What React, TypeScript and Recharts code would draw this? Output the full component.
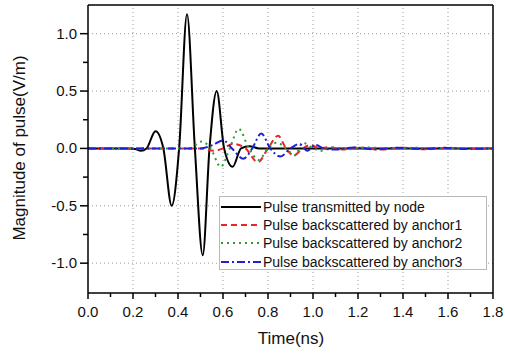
import { Line, LineChart, ReferenceLine, XAxis, YAxis } from 'recharts';

// Pulse transmitted by node (black, solid)
const nodeT = [0, 0.18, 0.21, 0.235, 0.26, 0.3, 0.335, 0.372, 0.405, 0.44, 0.475, 0.51, 0.54, 0.572, 0.605, 0.643, 0.68, 0.718, 0.76, 1.8];
const nodeV = [0, 0, -0.005, -0.02, 0, 0.15, 0, -0.5, 0, 1.17, 0, -0.93, 0, 0.5, 0, -0.16, 0, 0.02, 0, 0];

// Pulse backscattered by anchor1 (red, dashed)
const anchor1T = [0, 0.5, 0.56, 0.6, 0.645, 0.7, 0.755, 0.8, 0.845, 0.88, 0.915, 0.955, 0.99, 1.03, 1.07, 1.12, 1.2, 1.3, 1.4, 1.5, 1.6, 1.7, 1.8];
const anchor1V = [0, 0, -0.02, 0, 0.04, 0, -0.12, 0, 0.11, 0, -0.06, 0, 0.03, 0, 0.012, -0.01, 0.008, -0.01, 0.006, -0.008, 0.006, -0.005, 0];

// Pulse backscattered by anchor2 (green, dotted)
const anchor2T = [0, 0.45, 0.505, 0.545, 0.59, 0.63, 0.67, 0.715, 0.758, 0.8, 0.84, 0.88, 0.92, 0.955, 1.0, 1.04, 1.09, 1.15, 1.25, 1.35, 1.45, 1.55, 1.65, 1.8];
const anchor2V = [0, 0, 0.06, 0, -0.16, 0, 0.17, 0, -0.1, 0, 0.05, 0, -0.06, 0.05, 0, -0.02, 0.01, -0.008, 0.008, -0.006, 0.006, -0.005, 0.004, 0];

// Pulse backscattered by anchor3 (blue, dash-dot)
const anchor3T = [0, 0.5, 0.555, 0.6, 0.64, 0.69, 0.73, 0.77, 0.81, 0.855, 0.9, 0.94, 0.975, 1.01, 1.05, 1.1, 1.18, 1.28, 1.38, 1.48, 1.58, 1.68, 1.8];
const anchor3V = [0, 0, 0.03, 0.07, 0, -0.09, 0, 0.13, 0, -0.07, 0, 0.04, -0.02, 0.03, 0, -0.01, 0.008, -0.008, 0.006, -0.006, 0.005, -0.004, 0];

const xTicks = [0, 0.1, 0.2, 0.3, 0.4, 0.5, 0.6, 0.7, 0.8, 0.9, 1.0, 1.1, 1.2, 1.3, 1.4, 1.5, 1.6, 1.7, 1.8];
const yTicks = [-1, -0.75, -0.5, -0.25, 0, 0.25, 0.5, 0.75, 1];
const xGrid = [0.2, 0.4, 0.6, 0.8, 1.0, 1.2, 1.4, 1.6];
const yGrid = [-1, -0.5, 0.5, 1];

const legendItems = [
  { label: 'Pulse transmitted by node', color: '#000000', dash: undefined },
  { label: 'Pulse backscattered by anchor1', color: '#e8262a', dash: '6 4' },
  { label: 'Pulse backscattered by anchor2', color: '#2f9a36', dash: '2 4' },
  { label: 'Pulse backscattered by anchor3', color: '#1c22d4', dash: '8 3 2 3' },
];

const toRows = (t: number[], v: number[]) => t.map((x, i) => ({ t: x, v: v[i] }));

const series = [
  toRows(nodeT, nodeV),
  toRows(anchor1T, anchor1V),
  toRows(anchor2T, anchor2V),
  toRows(anchor3T, anchor3V),
];

const font = '"Liberation Sans", Arial, sans-serif';

function XTick(props: any) {
  const { x, y, payload } = props;
  const major = Math.round(payload.value * 10) % 2 === 0;
  return (
    <g>
      <line x1={x} x2={x} y1={y} y2={y + (major ? 6 : 4)} stroke="#000" strokeWidth={1.5} />
      {major && (
        <text x={x} y={y + 24} textAnchor="middle" fontSize={15} fontFamily={font} fill="#111">
          {payload.value.toFixed(1)}
        </text>
      )}
    </g>
  );
}

function YTick(props: any) {
  const { x, y, payload } = props;
  const major = Math.abs(payload.value * 2 - Math.round(payload.value * 2)) < 1e-6;
  return (
    <g>
      <line x1={x} x2={x - (major ? 8 : 5)} y1={y} y2={y} stroke="#000" strokeWidth={1.5} />
      {major && (
        <text x={x - 11} y={y + 5} textAnchor="end" fontSize={15} fontFamily={font} fill="#111">
          {payload.value.toFixed(1)}
        </text>
      )}
    </g>
  );
}

function LegendBox() {
  return (
    <div
      style={{
        position: 'absolute',
        left: 219,
        top: 196,
        width: 268,
        height: 74,
        border: '1px solid #b8b8b8',
        background: '#fff',
        paddingTop: 1,
        boxSizing: 'border-box',
        fontFamily: font,
        fontSize: 14,
        color: '#111',
      }}
    >
      {legendItems.map((item) => (
        <div key={item.label} style={{ height: 18.2, display: 'flex', alignItems: 'center', whiteSpace: 'nowrap' }}>
          <svg width={40} height={10} style={{ marginLeft: 1, marginRight: 2 }}>
            <line x1={0} x2={40} y1={5} y2={5} stroke={item.color} strokeWidth={2} strokeDasharray={item.dash} />
          </svg>
          <span>{item.label}</span>
        </div>
      ))}
    </div>
  );
}

export default function App() {
  return (
    <div style={{ position: 'absolute', left: 0, top: 0, width: 505, height: 353, background: '#fff' }}>
      <LineChart width={505} height={353} margin={{ top: 5, right: 12, bottom: 0, left: 0 }}>
        {xGrid.map((g) => (
          <ReferenceLine key={'x' + g} x={g} stroke="#9a9a9a" strokeDasharray="1 3" />
        ))}
        {yGrid.map((g) => (
          <ReferenceLine key={'y' + g} y={g} stroke="#9a9a9a" strokeDasharray="1 3" />
        ))}
        <XAxis
          dataKey="t"
          type="number"
          domain={[0, 1.8]}
          ticks={xTicks}
          interval={0}
          height={60}
          tickSize={0}
          tickMargin={0}
          tickLine={false}
          axisLine={{ stroke: '#000', strokeWidth: 1.5 }}
          tick={<XTick />}
          allowDataOverflow
        />
        <YAxis
          dataKey="v"
          type="number"
          domain={[-1.26, 1.25]}
          ticks={yTicks}
          interval={0}
          width={88}
          tickSize={0}
          tickMargin={0}
          tickLine={false}
          axisLine={{ stroke: '#000', strokeWidth: 1.5 }}
          tick={<YTick />}
          allowDataOverflow
        />
        <ReferenceLine y={1.25} stroke="#000" strokeWidth={1.5} />
        <ReferenceLine x={1.8} stroke="#000" strokeWidth={1.5} />
        {series.map((data, i) => (
          <Line
            key={legendItems[i].label}
            data={data}
            dataKey="v"
            type="monotone"
            stroke={legendItems[i].color}
            strokeWidth={2}
            strokeDasharray={legendItems[i].dash}
            dot={false}
            isAnimationActive={false}
          />
        ))}
      </LineChart>
      <LegendBox />
      <div
        style={{
          position: 'absolute',
          left: 20,
          top: 148,
          transform: 'translate(-50%, -50%) rotate(-90deg)',
          whiteSpace: 'nowrap',
          fontFamily: font,
          fontSize: 17,
          color: '#111',
        }}
      >
        Magnitude of pulse(V/m)
      </div>
      <div
        style={{
          position: 'absolute',
          left: 291,
          top: 339,
          transform: 'translate(-50%, -50%)',
          whiteSpace: 'nowrap',
          fontFamily: font,
          fontSize: 17,
          color: '#111',
        }}
      >
        Time(ns)
      </div>
    </div>
  );
}
